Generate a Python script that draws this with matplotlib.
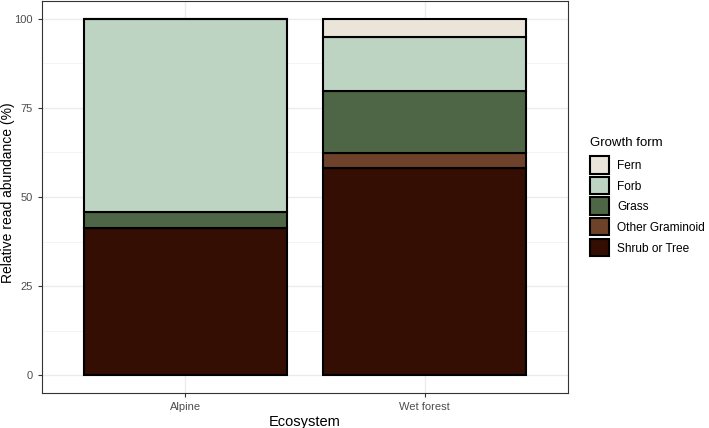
import matplotlib
matplotlib.use("Agg")
import matplotlib.pyplot as plt
from matplotlib.patches import Patch, Rectangle
from matplotlib.legend_handler import HandlerPatch
import numpy as np

plt.rcParams['font.family'] = ['Liberation Sans', 'DejaVu Sans']

ecosystems = ["Alpine", "Wet forest"]
# stacking order bottom -> top
forms = ["Shrub or Tree", "Other Graminoid", "Grass", "Forb", "Fern"]
shrub = [41.2, 58.0]
other_gram = [0.0, 4.4]
grass = [4.7, 17.3]
forb = [54.1, 15.3]
fern = [0.0, 5.0]
values = [shrub, other_gram, grass, forb, fern]
colors = ["#340d03", "#6e412b", "#4e6646", "#bed4c3", "#eae4d9"]
yticks = [0, 25, 50, 75, 100]


class KeyHandler(HandlerPatch):
    def create_artists(self, legend, orig_handle, xdescent, ydescent,
                       width, height, fontsize, trans):
        h = 1.45 * fontsize
        y0 = -ydescent + (height - h) / 2.0
        r = Rectangle((-xdescent, y0), width, h,
                      facecolor=orig_handle.get_facecolor(),
                      edgecolor="black", linewidth=1.5)
        r.set_transform(trans)
        return [r]


fig = plt.figure(figsize=(7.09, 4.28), dpi=100)
W, H = 709, 428
ax = fig.add_axes([42 / W, (H - 393) / H, 526 / W, 392 / H])

x = np.arange(1, len(ecosystems) + 1)
bottom = np.zeros(len(ecosystems))
for name, vals, col in zip(forms, values, colors):
    vals = np.array(vals)
    ax.bar(x, vals, bottom=bottom, width=0.85, color=col, edgecolor="black",
           linewidth=1.5, zorder=3, label=name)
    bottom += vals

ax.set_xlim(0.4, 2.6)
ax.set_ylim(-5, 105)
ax.set_xticks(x)
ax.set_xticklabels(ecosystems)
ax.set_yticks(yticks)
ax.set_yticks([12.5, 37.5, 62.5, 87.5], minor=True)
ax.grid(True, which="major", color="#ebebeb", linewidth=1.0, zorder=0)
ax.grid(True, which="minor", axis="y", color="#f2f2f2", linewidth=0.6, zorder=0)
ax.tick_params(axis="both", which="major", colors="#333333", labelcolor="#4d4d4d",
               labelsize=8, length=3, width=0.8)
ax.tick_params(axis="y", which="minor", length=0)
for sp in ax.spines.values():
    sp.set_color("#333333")
    sp.set_linewidth(0.8)

ax.set_xlabel("Ecosystem", fontsize=10.5, color="black", labelpad=2)
ax.set_ylabel("Relative read abundance (%)", fontsize=10, color="black",
              va="center")
ax.yaxis.set_label_coords((8 - 42) / 526, 0.511)

handles = [Patch(facecolor=c, edgecolor="black", linewidth=1.5, label=n)
           for n, c in zip(forms[::-1], colors[::-1])]
leg = fig.legend(handles=handles, title="Growth form", loc="upper left",
                 bbox_to_anchor=(590 / W, 1 - 137 / H), frameon=False,
                 fontsize=8.6, title_fontsize=9.5, handlelength=1.6,
                 handletextpad=0.65, labelspacing=0.72, borderaxespad=0, borderpad=0,
                 handler_map={Patch: KeyHandler()})
leg._legend_box.align = "left"
leg._legend_box.sep = 8

fig.savefig("out.png", dpi=100)
